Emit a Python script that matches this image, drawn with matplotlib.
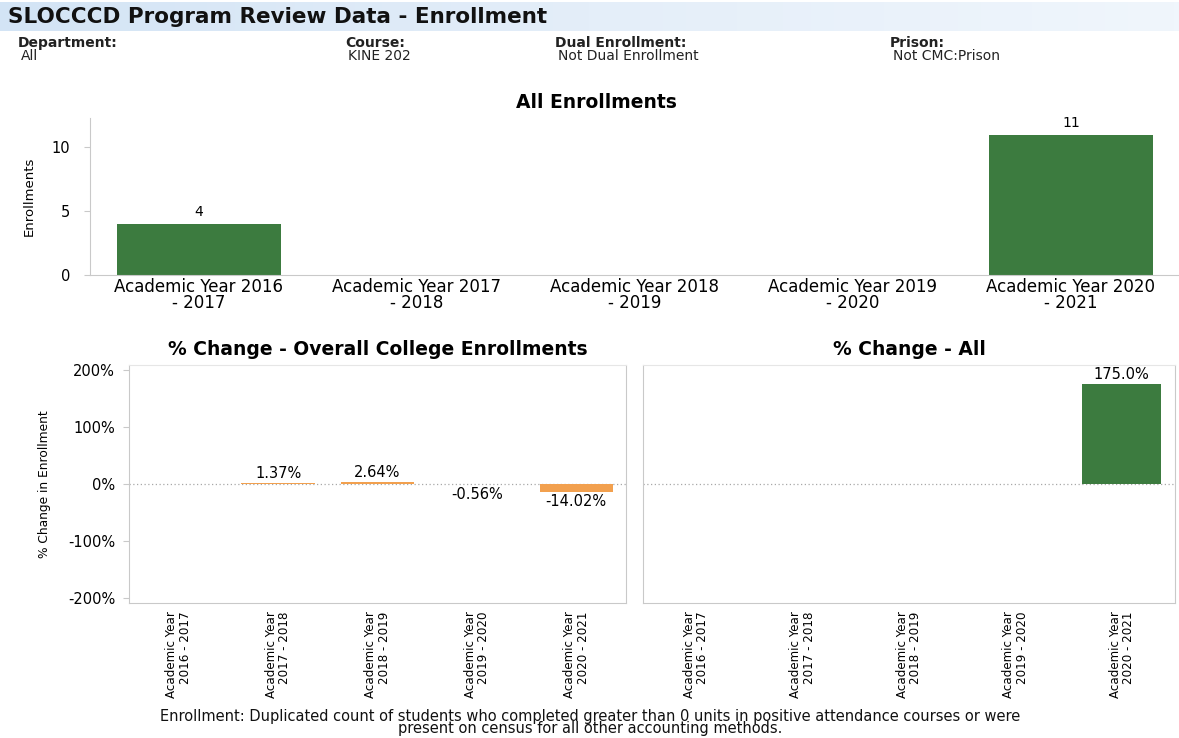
import numpy as np
import matplotlib.pyplot as plt
from matplotlib import font_manager
from matplotlib.colors import LinearSegmentedColormap

# data
years = ["2016 - 2017", "2017 - 2018", "2018 - 2019", "2019 - 2020", "2020 - 2021"]
enrollments = [4, np.nan, np.nan, np.nan, 11]
college_change = [np.nan, 1.37, 2.64, -0.56, -14.02]
course_change = [np.nan, np.nan, np.nan, np.nan, 175.0]

filters = [("Department:", "All"), ("Course:", "KINE 202"),
           ("Dual Enrollment:", "Not Dual Enrollment"), ("Prison:", "Not CMC:Prison")]
footnote = ["Enrollment: Duplicated count of students who completed greater than 0 units "
            "in positive attendance courses or were",
            "present on census for all other accounting methods."]

GREEN = "#3c7b3f"
ORANGE = "#f2a04e"
GRID = "#c9c9c9"

installed = {f.name for f in font_manager.fontManager.ttflist}
NARROW = "Liberation Sans Narrow" if "Liberation Sans Narrow" in installed else "DejaVu Sans"
narrow_size = 10.5 if NARROW == "Liberation Sans Narrow" else 8.6
WIDE = "DejaVu Sans"

W, H = 1179, 738
fig = plt.figure(figsize=(W / 100, H / 100), dpi=100)


def px_axes(l, t, r, b):
    return fig.add_axes([l / W, 1 - b / H, (r - l) / W, (b - t) / H])


def ftext(x, y, s, **kw):
    kw.setdefault("family", WIDE)
    return fig.text(x / W, 1 - y / H, s, **kw)


# header band
hax = px_axes(0, 2, W, 31)
hax.imshow(np.linspace(0, 1, 256)[None, :], aspect="auto",
           cmap=LinearSegmentedColormap.from_list("hdr", ["#d3e4f5", "#e4eef9", "#f0f6fc"]))
hax.axis("off")
ftext(8, 17, "SLOCCCD Program Review Data - Enrollment", fontsize=15.5,
      fontweight="bold", va="center", color="#111111")

xs_hdr = [18, 345, 555, 890]
for xh, (lab, val) in zip(xs_hdr, filters):
    ftext(xh, 43, lab, fontsize=10, fontweight="bold", va="center", color="#222222")
    ftext(xh + 3, 56, val, fontsize=10, va="center", color="#222222")

# ---- All Enrollments
ax1 = px_axes(90, 118, 1180, 275)
x = np.arange(len(years))
ax1.bar(x, enrollments, width=0.75, color=GREEN)
for i, v in enumerate(enrollments):
    if not np.isnan(v):
        ax1.text(i, v + 0.35, f"{v:g}", ha="center", va="bottom", fontsize=10, family=WIDE)
ax1.set_xlim(-0.5, 4.5)
ax1.set_ylim(0, 12.3)
ax1.set_yticks([0, 5, 10])
ax1.set_xticks(x)
ax1.set_xticklabels([f"Academic Year {y[:4]}\n- {y[-4:]}" for y in years],
                    fontsize=12, family=WIDE, linespacing=0.9)
ax1.tick_params(axis="x", length=0, pad=2)
ax1.tick_params(axis="y", length=4, color=GRID, labelsize=10.5, pad=10)
for s in ["top", "right"]:
    ax1.spines[s].set_visible(False)
for s in ["left", "bottom"]:
    ax1.spines[s].set_color(GRID)
ax1.set_ylabel("Enrollments", family=NARROW, fontsize=9.5, labelpad=12)
ftext(596, 103, "All Enrollments", fontsize=13.5, fontweight="bold", ha="center", va="center")

# ---- % change panels
ax2 = px_axes(129, 365, 626, 603)
ax3 = px_axes(643, 365, 1175, 603)

panels = [(ax2, college_change, "% Change - Overall College Enrollments", "{:.2f}%", ORANGE),
          (ax3, course_change, "% Change - All", "{:.1f}%", GREEN)]
for ax, vals, title, fmt, col in panels:
    ax.bar(x, vals, width=0.74, color=col)
    ax.axhline(0, color="#a8a8a8", ls=(0, (1, 2)), lw=0.9, zorder=0)
    for i, v in enumerate(vals):
        if np.isnan(v):
            continue
        if v >= 0:
            ax.text(i, v + 4, fmt.format(v), ha="center", va="bottom", fontsize=10.5, family=WIDE)
        else:
            ax.text(i, v - 4, fmt.format(v), ha="center", va="top", fontsize=10.5, family=WIDE)
    ax.set_xlim(-0.5, 4.5)
    ax.set_ylim(-208, 208)
    ax.set_xticks(x)
    ax.set_xticklabels([f"Academic Year\n{y}" for y in years], rotation=90,
                       family=NARROW, fontsize=narrow_size, multialignment="right",
                       linespacing=1.05)
    ax.tick_params(axis="x", length=0, pad=6)
    for s in ax.spines.values():
        s.set_color(GRID)
    ax.spines["top"].set_color("#e6e6e6")
    ax.set_title(title, fontsize=13.5, fontweight="bold", family=WIDE, pad=7)

ax2.set_yticks([-200, -100, 0, 100, 200])
ax2.set_yticklabels([f"{t}%" for t in [-200, -100, 0, 100, 200]], fontsize=10.5, family=WIDE)
ax2.tick_params(axis="y", length=4, color=GRID, pad=6)
ax2.set_ylabel("% Change in Enrollment", family=NARROW, fontsize=8.8, labelpad=12)
ax3.set_yticks([])

for yy, line in zip([716, 729], footnote):
    ftext(590, yy, line, fontsize=10.5, ha="center", va="center", color="#111111")

fig.savefig("out.png", dpi=100)
